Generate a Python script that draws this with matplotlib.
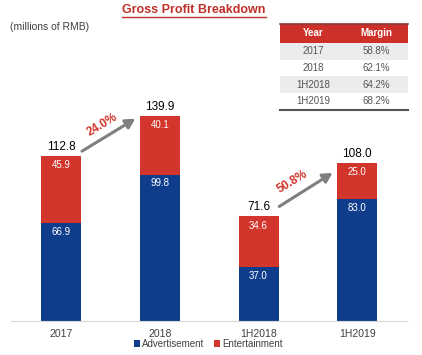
import matplotlib
matplotlib.use('Agg')
from matplotlib import pyplot as plt
from matplotlib.patches import Rectangle
from matplotlib.lines import Line2D
import numpy as np

plt.rcParams['font.family'] = ['Liberation Sans', 'DejaVu Sans']

categories = ['2017', '2018', '1H2018', '1H2019']
advertisement = [66.9, 99.8, 37.0, 83.0]
entertainment = [45.9, 40.1, 34.6, 25.0]
totals = [112.8, 139.9, 71.6, 108.0]
growth_pairs = [(0, 1), (2, 3)]

table_years = ['2017', '2018', '1H2018', '1H2019']
table_margins = ['58.8%', '62.1%', '64.2%', '68.2%']

BLUE = '#0f3d8c'
RED = '#d1352b'
GRAY = '#7f7f7f'

W, H = 422, 355
fig = plt.figure(figsize=(W / 100, H / 100), dpi=100)
ax = fig.add_axes([10.5 / W, 34 / H, 396 / W, 220 / H])

x = np.arange(len(categories))
ax.bar(x, advertisement, width=0.405, color=BLUE, label='Advertisement')
ax.bar(x, entertainment, width=0.405, bottom=advertisement, color=RED, label='Entertainment')

for i in range(len(categories)):
    ax.text(x[i], advertisement[i] - 6, f'{advertisement[i]:.1f}', ha='center', va='center',
            color='white', fontsize=7)
    ax.text(x[i], totals[i] - 6.5, f'{entertainment[i]:.1f}', ha='center', va='center',
            color='white', fontsize=7)
    ax.text(x[i], totals[i] + 2, f'{totals[i]:.1f}', ha='center', va='bottom',
            color='black', fontsize=8.5)

# (start dy, end dy, label dx, label dy) per arrow
arrow_offsets = [(3, -2, 0.21, 7), (6.5, -7, 0.13, 5)]
for (a, b), (d0, d1, lx, ly) in zip(growth_pairs, arrow_offsets):
    g = (totals[b] / totals[a] - 1) * 100
    x0, y0 = x[a] + 0.21, totals[a] + d0
    x1, y1 = x[b] - 0.25, totals[b] + d1
    ax.annotate('', xy=(x1, y1), xytext=(x0, y0),
                arrowprops=dict(arrowstyle='-|>,head_width=0.3,head_length=0.55',
                                color=GRAY, lw=2.2, shrinkA=0, shrinkB=0))
    ax.text(x0 + lx, (y0 + y1) / 2 + ly, f'{g:.1f}%', ha='center', va='center',
            rotation=31, color=RED, fontsize=8.5, fontweight='bold', rotation_mode='anchor')

ax.set_xlim(-0.515, 3.5)
ax.set_ylim(0, 150)
for s in ['top', 'right', 'left']:
    ax.spines[s].set_visible(False)
ax.spines['bottom'].set_color('#d9d9d9')
ax.set_yticks([])
ax.set_xticks(x)
ax.set_xticklabels(categories, fontsize=7.5, color='#404040')
ax.tick_params(axis='x', length=0, pad=6)

ax.legend(loc='center', bbox_to_anchor=(0.5, -23 / 220), ncol=2, frameon=False,
          fontsize=7, handlelength=0.6, handleheight=0.6, handletextpad=0.2,
          columnspacing=1.0, labelcolor='#404040', borderpad=0, borderaxespad=0)

# title with underline
t = fig.text(194 / W, 1 - 10 / H, 'Gross Profit Breakdown', ha='center', va='center',
             color='#c0302a', fontsize=9, fontweight='bold')
fig.canvas.draw()
bb = t.get_window_extent().transformed(fig.transFigure.inverted())
fig.add_artist(Line2D([bb.x0, bb.x1], [bb.y0 - 0.002, bb.y0 - 0.002], color='#c0302a', lw=1))

fig.text(10 / W, 1 - 27 / H, '(millions of RMB)', ha='left', va='center',
         color='#404040', fontsize=7.5)

# margin table
tx0, tx1 = 280, 408
row_h = 16.7
top = 24
hdr_h = 19
fig.add_artist(Rectangle((tx0 / W, 1 - (top + hdr_h) / H), (tx1 - tx0) / W, hdr_h / H,
                         transform=fig.transFigure, color='#cc3029', lw=0))
fig.add_artist(Line2D([tx0 / W, tx1 / W], [1 - top / H] * 2, color='#8a3a36', lw=1.2))
col_x = [313, 376]
fig.text(col_x[0] / W, 1 - (top + hdr_h / 2) / H, 'Year', ha='center', va='center',
         color='white', fontsize=7, fontweight='bold')
fig.text(col_x[1] / W, 1 - (top + hdr_h / 2) / H, 'Margin', ha='center', va='center',
         color='white', fontsize=7, fontweight='bold')
for r, (yr, m) in enumerate(zip(table_years, table_margins)):
    y_top = top + hdr_h + r * row_h
    if r % 2 == 0:
        fig.add_artist(Rectangle((tx0 / W, 1 - (y_top + row_h) / H), (tx1 - tx0) / W, row_h / H,
                                 transform=fig.transFigure, color='#ececec', lw=0))
    fig.text(col_x[0] / W, 1 - (y_top + row_h / 2) / H, yr, ha='center', va='center',
             color='#555555', fontsize=7)
    fig.text(col_x[1] / W, 1 - (y_top + row_h / 2) / H, m, ha='center', va='center',
             color='#555555', fontsize=7)
y_bot = top + hdr_h + len(table_years) * row_h
fig.add_artist(Line2D([tx0 / W, tx1 / W], [1 - y_bot / H] * 2, color='#555555', lw=1.5))

fig.savefig('out.png', dpi=100)
